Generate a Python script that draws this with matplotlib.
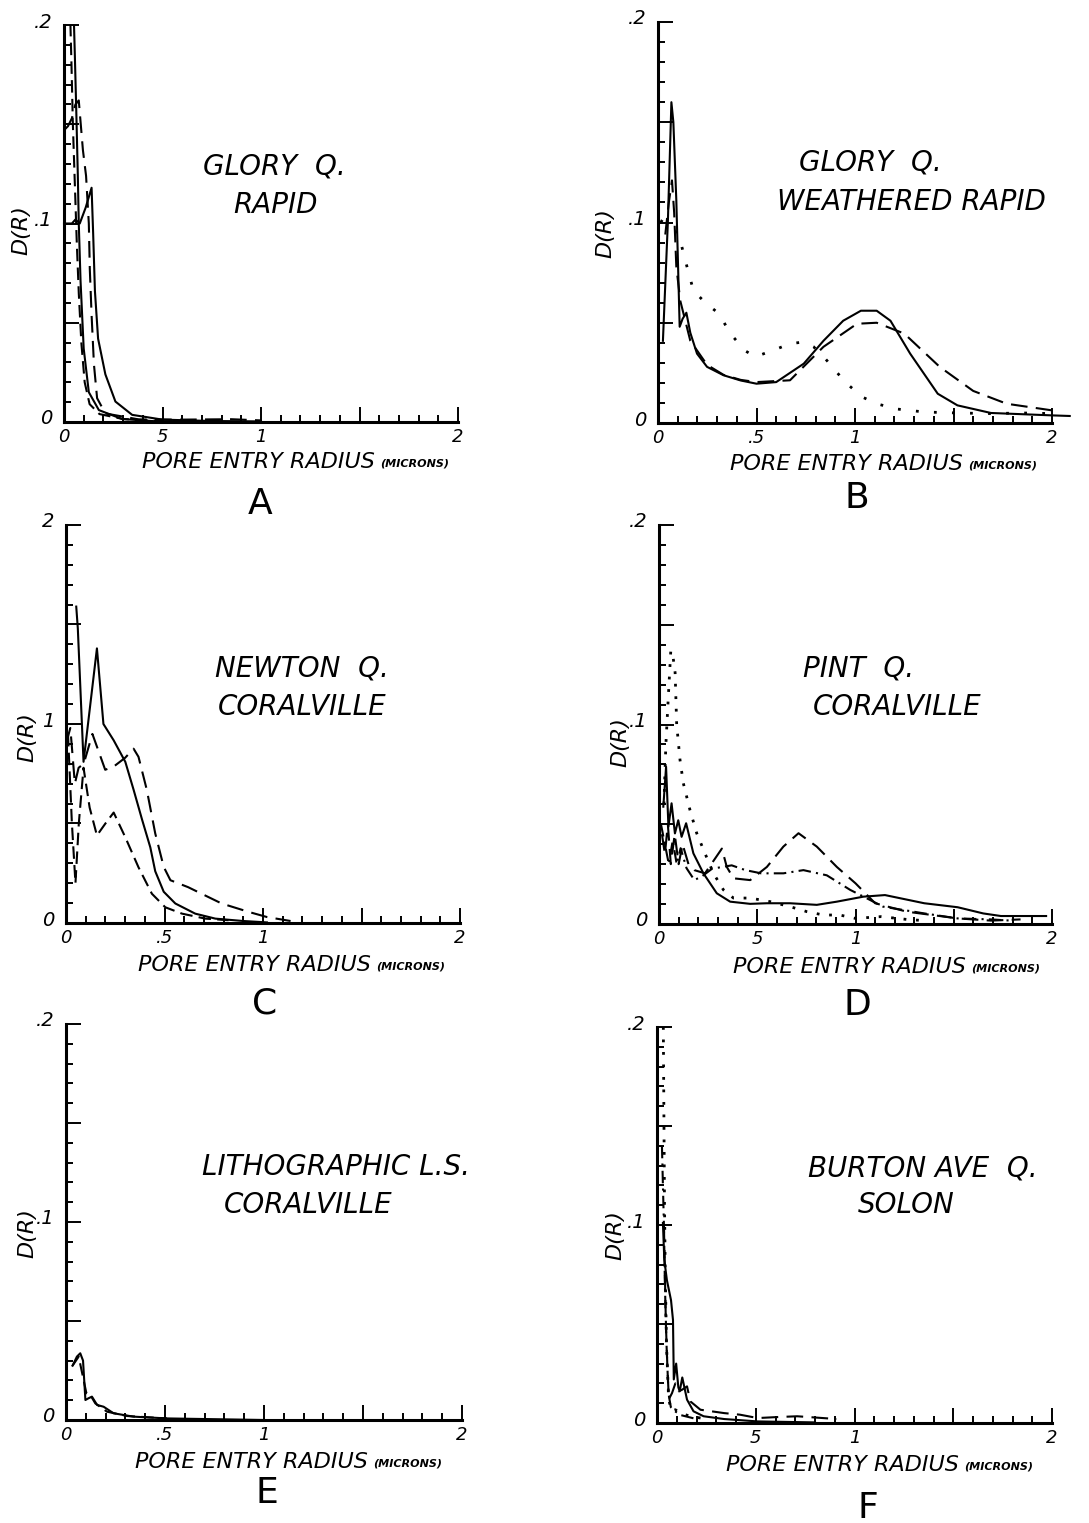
import numpy as np
import matplotlib
matplotlib.use("Agg")
import matplotlib.pyplot as plt

W, H = 1089, 1523

# ---- A: Glory Q. rapid
a_s1_x = [0.0, 0.04, 0.058, 0.08, 0.11, 0.14, 0.148, 0.157, 0.173, 0.21, 0.261, 0.346, 0.5, 0.75, 1.0]
a_s1_y = [0.100, 0.100, 0.102, 0.100, 0.108, 0.118, 0.095, 0.066, 0.042, 0.024, 0.0103, 0.0036, 0.0012, 0.0005, 0.0003]
a_s2_x = [0.048, 0.055, 0.062, 0.07, 0.075, 0.084, 0.1, 0.126, 0.177, 0.295, 0.46, 0.7]
a_s2_y = [0.21, 0.185, 0.158, 0.125, 0.100, 0.071, 0.037, 0.015, 0.006, 0.0015, 0.0004, 0.0002]
a_d1_x = [0.03, 0.038, 0.045, 0.055, 0.065, 0.075, 0.088, 0.105, 0.13, 0.18, 0.3, 0.5]
a_d1_y = [0.21, 0.18, 0.15, 0.12, 0.09, 0.065, 0.04, 0.02, 0.009, 0.004, 0.0015, 0.0005]
a_d2_x = [0.0, 0.02, 0.04, 0.058, 0.075, 0.096, 0.112, 0.126, 0.131, 0.14, 0.152, 0.168, 0.21, 0.38, 0.6, 0.85, 1.0]
a_d2_y = [0.147, 0.149, 0.153, 0.16, 0.162, 0.137, 0.124, 0.100, 0.077, 0.054, 0.029, 0.012, 0.0043, 0.0013, 0.0012, 0.0014, 0.0008]

# ---- B: Glory Q. weathered rapid
b_solid_x = [0.025, 0.05, 0.068, 0.078, 0.093, 0.11, 0.125, 0.144, 0.164, 0.198, 0.249, 0.333, 0.42, 0.5, 0.6, 0.74, 0.84,
             0.94, 1.03, 1.11, 1.18, 1.28, 1.42, 1.52, 1.69, 2.0, 2.09]
b_solid_y = [0.041, 0.10, 0.160, 0.150, 0.111, 0.048, 0.052, 0.055, 0.045, 0.0346, 0.028, 0.0238, 0.0212, 0.0196, 0.0204,
             0.0296, 0.041, 0.051, 0.056, 0.056, 0.051, 0.0346, 0.0146, 0.0088, 0.005, 0.0038, 0.0035]
b_dash_x = [0.037, 0.055, 0.071, 0.082, 0.093, 0.113, 0.164, 0.249, 0.333, 0.42, 0.5, 0.67, 0.84, 1.01, 1.11, 1.25, 1.43,
            1.6, 1.77, 2.0]
b_dash_y = [0.094, 0.110, 0.121, 0.105, 0.078, 0.061, 0.041, 0.029, 0.024, 0.0215, 0.0204, 0.0213, 0.038, 0.0495, 0.050,
            0.0446, 0.028, 0.016, 0.0096, 0.0063]
b_dot_x = [0.012, 0.063, 0.105, 0.147, 0.18, 0.24, 0.31, 0.367, 0.443, 0.494, 0.604, 0.672, 0.74, 0.79, 0.85, 0.95, 1.036,
           1.11, 1.21, 1.35, 1.52, 1.69, 1.85, 2.0]
b_dot_y = [0.101, 0.098, 0.094, 0.078, 0.066, 0.060, 0.0545, 0.0446, 0.036, 0.033, 0.037, 0.0396, 0.0404, 0.038, 0.032,
           0.0204, 0.013, 0.0096, 0.007, 0.0055, 0.005, 0.0047, 0.005, 0.0047]

# ---- C: Newton Q. Coralville
c_solid_x = [0.052, 0.06, 0.089, 0.157, 0.19, 0.242, 0.301, 0.343, 0.386, 0.428, 0.453, 0.496, 0.555, 0.656, 0.758, 0.9, 1.02]
c_solid_y = [0.159, 0.148, 0.081, 0.138, 0.100, 0.0918, 0.081, 0.067, 0.052, 0.038, 0.026, 0.0157, 0.0098, 0.0047, 0.0022,
             0.001, 0.0003]
c_dash1_x = [0.0, 0.022, 0.045, 0.064, 0.09, 0.134, 0.199, 0.242, 0.3, 0.343, 0.368, 0.41, 0.453, 0.496, 0.53, 0.62, 0.79,
             0.93, 1.02, 1.14]
c_dash1_y = [0.09, 0.098, 0.07, 0.078, 0.08, 0.095, 0.077, 0.0786, 0.083, 0.0876, 0.0835, 0.067, 0.045, 0.0282, 0.0215,
             0.018, 0.0098, 0.0055, 0.003, 0.001]
c_dash2_x = [0.01, 0.03, 0.048, 0.065, 0.089, 0.12, 0.157, 0.2, 0.242, 0.3, 0.368, 0.436, 0.504, 0.589, 0.707, 0.825]
c_dash2_y = [0.095, 0.05, 0.02, 0.05, 0.078, 0.058, 0.044, 0.05, 0.0555, 0.0433, 0.028, 0.0147, 0.0079, 0.0047, 0.0022, 0.0014]

# ---- D: Pint Q. Coralville
d_solid_x = [0.022, 0.036, 0.048, 0.064, 0.081, 0.098, 0.115, 0.138, 0.175, 0.226, 0.294, 0.362, 0.464, 0.549, 0.667,
             0.803, 0.905, 1.04, 1.15, 1.35, 1.52, 1.65, 1.74, 1.97]
d_solid_y = [0.0588, 0.0788, 0.0488, 0.0605, 0.0454, 0.052, 0.0437, 0.0505, 0.0354, 0.0254, 0.0154, 0.0112, 0.0101,
             0.0104, 0.0104, 0.0096, 0.0112, 0.0137, 0.0145, 0.0104, 0.0084, 0.0053, 0.004, 0.004]
d_dot_x = [0.025, 0.035, 0.048, 0.06, 0.07, 0.082, 0.09, 0.107, 0.124, 0.158, 0.192, 0.234, 0.277, 0.328, 0.379, 0.464,
           0.566, 0.667, 0.752, 0.837, 0.92, 1.0, 1.13, 1.26, 1.35]
d_dot_y = [0.06, 0.09, 0.115, 0.137, 0.135, 0.126, 0.100, 0.0822, 0.0705, 0.057, 0.0455, 0.0354, 0.0254, 0.0171, 0.013,
           0.013, 0.0112, 0.0087, 0.0062, 0.0045, 0.0045, 0.0028, 0.0037, 0.0023, 0.0017]
d_dash_x = [0.015, 0.03, 0.045, 0.06, 0.08, 0.1, 0.12, 0.15, 0.18, 0.234, 0.32, 0.345, 0.379, 0.464, 0.549, 0.633, 0.71,
            0.803, 0.905, 1.0, 1.1, 1.26, 1.52, 1.69, 1.84]
d_dash_y = [0.045, 0.035, 0.05, 0.03, 0.045, 0.03, 0.04, 0.03, 0.027, 0.0254, 0.0378, 0.0286, 0.0229, 0.022, 0.0286,
            0.0388, 0.0455, 0.0388, 0.0286, 0.0204, 0.0104, 0.0062, 0.0028, 0.0017, 0.0023]
d_dashdot_x = [0.01, 0.03, 0.05, 0.07, 0.09, 0.11, 0.14, 0.18, 0.22, 0.27, 0.37, 0.44, 0.52, 0.633, 0.735, 0.854, 0.973,
               1.075, 1.14, 1.35, 1.52, 1.69, 1.79]
d_dashdot_y = [0.05, 0.04, 0.03, 0.042, 0.03, 0.038, 0.028, 0.022, 0.024, 0.0277, 0.0294, 0.027, 0.0254, 0.0254, 0.027,
               0.0244, 0.0171, 0.012, 0.0087, 0.0053, 0.0028, 0.0023, 0.0017]

# ---- E: Lithographic L.S. Coralville
e_solid_x = [0.035, 0.055, 0.072, 0.086, 0.098, 0.114, 0.131, 0.157, 0.19, 0.24, 0.34, 0.51, 1.0]
e_solid_y = [0.0278, 0.032, 0.0337, 0.030, 0.0101, 0.011, 0.0118, 0.0076, 0.0067, 0.0034, 0.0017, 0.0008, 0.0]
e_dash_x = [0.03, 0.064, 0.089, 0.103, 0.123, 0.148, 0.207, 0.31, 0.51]
e_dash_y = [0.027, 0.032, 0.0202, 0.0135, 0.0126, 0.0084, 0.0042, 0.002, 0.0008]

# ---- F: Burton Ave Q. Solon
f_solid_x = [0.03, 0.037, 0.05, 0.071, 0.081, 0.085, 0.097, 0.108, 0.115, 0.128, 0.152, 0.185, 0.236, 0.34, 0.51, 0.8]
f_solid_y = [0.101, 0.0824, 0.0722, 0.062, 0.052, 0.022, 0.030, 0.018, 0.016, 0.023, 0.0118, 0.0059, 0.0034, 0.002,
             0.0008, 0.0003]
f_dash_x = [0.035, 0.04, 0.045, 0.052, 0.06, 0.076, 0.093, 0.11, 0.127, 0.152, 0.169, 0.22, 0.34, 0.42, 0.51, 0.61, 0.71,
            0.84, 0.91]
f_dash_y = [0.10, 0.075, 0.05, 0.03, 0.012, 0.0151, 0.020, 0.016, 0.0168, 0.0185, 0.0109, 0.0067, 0.005, 0.0042, 0.0025,
            0.003, 0.0034, 0.0025, 0.002]
f_dot_x = [0.032, 0.034, 0.036, 0.038, 0.042, 0.048, 0.059, 0.075, 0.093, 0.118, 0.169, 0.25]
f_dot_y = [0.2, 0.17, 0.14, 0.11, 0.075, 0.04, 0.0118, 0.006, 0.0067, 0.005, 0.0034, 0.002]
f_dashdot_x = [0.025, 0.03, 0.035, 0.04, 0.048, 0.058, 0.07, 0.09, 0.12, 0.2]
f_dashdot_y = [0.14, 0.12, 0.1, 0.07, 0.04, 0.015, 0.008, 0.006, 0.004, 0.002]

panel_titles = [("GLORY  Q.", "RAPID"), ("GLORY  Q.", "WEATHERED RAPID"), ("NEWTON  Q.", "CORALVILLE"),
                ("PINT  Q.", "CORALVILLE"), ("LITHOGRAPHIC L.S.", "CORALVILLE"), ("BURTON AVE  Q.", "SOLON")]
panel_letters = ["A", "B", "C", "D", "E", "F"]
xtick_labels = [["0", "5", "1", "2"], ["0", ".5", "1", "2"], ["0", ".5", "1", "2"],
                ["0", "5", "1", "2"], ["0", ".5", "1", "2"], ["0", "5", "1", "2"]]
xtick_vals = [0, 0.5, 1, 2]
ytick_labels = [["0", ".1", ".2"], ["0", ".1", ".2"], ["0", "1", "2"],
                ["0", ".1", ".2"], ["0", ".1", ".2"], ["0", ".1", ".2"]]
ytick_vals = [0, 0.1, 0.2]

# pixel geometry of each panel: x of R=0, x of R=2, y of D=0, y of D=.2
geom = [(64, 458, 422, 25), (658, 1052, 423, 22), (66, 460, 923, 525),
        (659, 1052, 924, 525), (66, 462, 1420, 1024), (657, 1052, 1423, 1027)]
title_pos = [((274, 167), (276, 205)), ((870, 163), (911, 202)), ((302, 668), (302, 707)),
             ((859, 668), (897, 707)), ((336, 1167), (308, 1205)), ((923, 1168), (906, 1205))]
letter_pos = [(260, 504), (857, 498), (265, 1003), (857, 1005), (267, 1493), (868, 1508)]
dr_pos = [(21, 230), (605, 233), (27, 737), (620, 742), (27, 1233), (615, 1235)]
xlabel_pos = [(142, 462), (730, 464), (138, 965), (733, 967), (135, 1462), (726, 1465)]

SOLID = "-"
DASH = (0, (6, 3))
LDASH = (0, (8, 4))
DOT = (0, (1, 3.5))
SDOT = (0, (1, 5.5))
DASHDOT = (0, (6, 2.5, 1, 2.5))

curves = [
    [(a_s1_x, a_s1_y, SOLID), (a_s2_x, a_s2_y, SOLID), (a_d1_x, a_d1_y, DASH), (a_d2_x, a_d2_y, LDASH)],
    [(b_solid_x, b_solid_y, SOLID), (b_dash_x, b_dash_y, LDASH), (b_dot_x, b_dot_y, SDOT)],
    [(c_solid_x, c_solid_y, SOLID), (c_dash1_x, c_dash1_y, LDASH), (c_dash2_x, c_dash2_y, DASH)],
    [(d_solid_x, d_solid_y, SOLID), (d_dot_x, d_dot_y, DOT), (d_dash_x, d_dash_y, LDASH),
     (d_dashdot_x, d_dashdot_y, DASHDOT)],
    [(e_solid_x, e_solid_y, SOLID), (e_dash_x, e_dash_y, DASH)],
    [(f_solid_x, f_solid_y, SOLID), (f_dash_x, f_dash_y, LDASH), (f_dot_x, f_dot_y, DOT),
     (f_dashdot_x, f_dashdot_y, DASHDOT)],
]

plt.rcParams["font.family"] = ["DejaVu Sans"]

fig = plt.figure(figsize=(W / 100, H / 100), dpi=100)
fig.patch.set_facecolor("white")


def px(x, y):
    return x / W, 1 - y / H


def hand(x, y, s, size, **kw):
    kw.setdefault("ha", "center")
    kw.setdefault("va", "center")
    return fig.text(*px(x, y), s, fontsize=size, style="italic", color="black", **kw)


for i in range(6):
    x0, x2, y0, ytop = geom[i]
    s = (x2 - x0) / 2.0
    t = (y0 - ytop) / 0.2
    left, right = x0 - 0.03 * s, x0 + 2.15 * s
    bottom = y0 + 0.004 * t
    ax = fig.add_axes([left / W, 1 - bottom / H, (right - left) / W, (bottom - ytop) / H])
    ax.set_xlim(-0.03, 2.15)
    ax.set_ylim(-0.004, 0.2)
    ax.patch.set_alpha(0)
    for side in ["top", "right"]:
        ax.spines[side].set_visible(False)
    ax.spines["left"].set_position(("data", 0))
    ax.spines["bottom"].set_position(("data", 0))
    ax.spines["left"].set_bounds(0, 0.2)
    ax.spines["bottom"].set_bounds(0, 2)
    ax.spines["left"].set_linewidth(2.2)
    ax.spines["bottom"].set_linewidth(2.2)
    ax.set_xticks(np.arange(0, 2.01, 0.5))
    ax.set_xticks(np.arange(0, 2.01, 0.1), minor=True)
    ax.set_yticks(np.arange(0, 0.201, 0.05))
    ax.set_yticks(np.arange(0, 0.201, 0.01), minor=True)
    ax.tick_params(which="both", direction="in", labelbottom=False, labelleft=False, width=1.4)
    ax.tick_params(which="major", length=11)
    ax.tick_params(which="minor", length=5)

    for xs, ys, ls in curves[i]:
        lw = 2.0 if ls in (DOT, SDOT) else 1.5
        ax.plot(xs, ys, color="black", lw=lw, linestyle=ls)

    # hand lettered tick labels
    for v, lab in zip(xtick_vals, xtick_labels[i]):
        hand(x0 + v * s, y0 + 15, lab, 13)
    for v, lab in zip(ytick_vals, ytick_labels[i]):
        hand(x0 - 12, y0 - v * t - 3, lab, 14, ha="right")

    # sample name
    (tx1, ty1), (tx2, ty2) = title_pos[i]
    hand(tx1, ty1, panel_titles[i][0], 20)
    hand(tx2, ty2, panel_titles[i][1], 20)

    hand(*dr_pos[i], "D(R)", 16, rotation=90)

    lab = hand(*xlabel_pos[i], "PORE ENTRY RADIUS", 16, ha="left")
    ax.annotate("(MICRONS)", xy=(1, 0.5), xycoords=lab, xytext=(4, -1), textcoords="offset points",
                ha="left", va="center", fontsize=8, style="italic", fontweight="bold", annotation_clip=False)

    fig.text(*px(*letter_pos[i]), panel_letters[i], fontsize=26, ha="center", va="center")

fig.savefig("out.png", dpi=100, facecolor="white")
